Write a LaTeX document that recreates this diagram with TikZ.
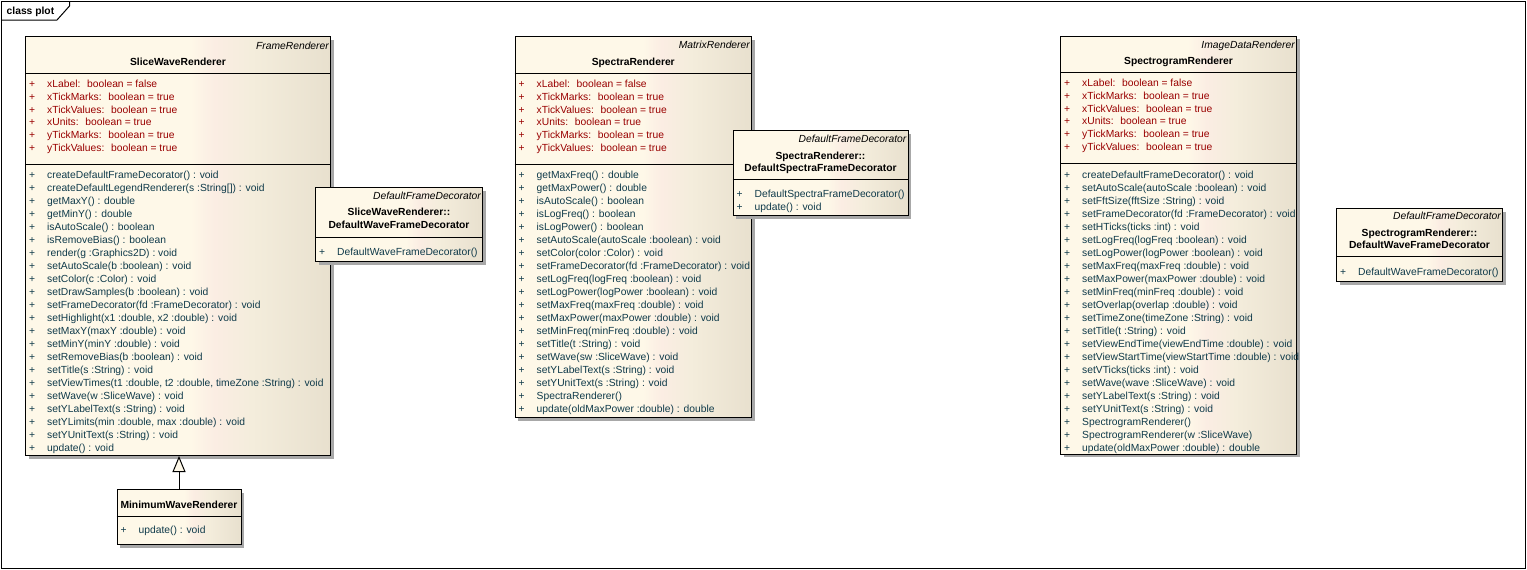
\documentclass[tikz,border=0pt]{standalone}
\usepackage{fontspec}
\setmainfont{Liberation Sans}
\usetikzlibrary{arrows.meta,positioning,shadows}
\definecolor{PlotCream}{HTML}{FEF8E8}
\definecolor{PlotPink}{HTML}{FBEDE3}
\definecolor{PlotBeige}{HTML}{F4EDDC}
\definecolor{PlotTan}{HTML}{E8E0CE}
\definecolor{PlotShadow}{HTML}{A8A8A8}
\definecolor{AttrRed}{HTML}{990000}
\definecolor{OpTeal}{HTML}{0F3A4A}
\pgfdeclarehorizontalshading{classfill}{100bp}{color(0bp)=(PlotCream); color(25bp)=(PlotCream); color(52bp)=(PlotCream); color(56bp)=(PlotPink); color(62bp)=(PlotBeige); color(75bp)=(PlotTan); color(100bp)=(PlotTan)}
\tikzset{
  classbox/.style={draw=black,line width=1pt,shading=classfill,anchor=north west,inner sep=0pt,drop shadow={shadow xshift=3pt,shadow yshift=-3pt,fill=PlotShadow,opacity=1}},
  stereo/.style={font=\fontsize{10.3}{12}\selectfont\itshape,anchor=base east,inner sep=0pt},
  classname/.style={font=\fontsize{10.3}{12}\selectfont\bfseries,anchor=base,inner sep=0pt},
  attrrow/.style={font=\fontsize{10.3}{12}\selectfont,text=AttrRed,anchor=base west,inner sep=0pt},
  oprow/.style={attrrow,text=OpTeal},
  titletext/.style={font=\fontsize{10.3}{12}\selectfont\bfseries,anchor=base west,inner sep=0pt},
  divider/.style={line width=1pt},
  frameline/.style={line width=1pt},
  inherit/.style={line width=1pt,-{Triangle[open,length=16pt,width=13pt,fill=PlotCream]}}
}
\newcommand{\classrows}[5][13]{%
  \foreach \row [count=\rowno] in {#5} {%
    \pgfmathsetmacro\rowy{#4+(\rowno-1)*#1}%
    \node[#3] (#2-#3\rowno) at ([shift={(4,\rowy)}]#2.north west) {\makebox[18pt][l]{+}\row};
  }%
}
\newcommand{\classdivider}[2]{%
  \draw[divider] ([shift={(0,#2)}]#1.north west) -- ([shift={(0,#2)}]#1.north east);
}

\begin{document}
\begin{tikzpicture}[x=1pt,y=-1pt]
  \useasboundingbox (0,0) rectangle (1527,570);
  % diagram frame
  \draw[frameline] (1.5,1.5) rectangle (1525.5,568.5);
  \draw[frameline] (1.5,20) -- (57,20) -- (69.5,6) -- (69.5,1.5);
  \node[titletext] (title) at (6.5,15) {class plot};

  % SliceWaveRenderer
  \node[classbox,minimum width=305pt,minimum height=419pt] (swr) at (25,36) {};
  \node[stereo] (swr-st) at ([shift={(-2,13)}]swr.north east) {FrameRenderer};
  \node[classname] (swr-name) at ([shift={(0,29.5)}]swr.north) {SliceWaveRenderer};
  \classdivider{swr}{37}
  \classdivider{swr}{128}
  \classrows[12.8]{swr}{attrrow}{51.5}{xLabel:~ boolean = false, xTickMarks:~ boolean = true, xTickValues:~ boolean = true, xUnits:~ boolean = true, yTickMarks:~ boolean = true, yTickValues:~ boolean = true}
  \classrows{swr}{oprow}{142}{createDefaultFrameDecorator() : void, createDefaultLegendRenderer(s :String[]) : void, getMaxY() : double, getMinY() : double, isAutoScale() : boolean, isRemoveBias() : boolean, render(g :Graphics2D) : void, setAutoScale(b :boolean) : void, setColor(c :Color) : void, setDrawSamples(b :boolean) : void, setFrameDecorator(fd :FrameDecorator) : void, {setHighlight(x1 :double, x2 :double) : void}, setMaxY(maxY :double) : void, setMinY(minY :double) : void, setRemoveBias(b :boolean) : void, setTitle(s :String) : void, {setViewTimes(t1 :double, t2 :double, timeZone :String) : void}, setWave(w :SliceWave) : void, setYLabelText(s :String) : void, {setYLimits(min :double, max :double) : void}, setYUnitText(s :String) : void, update() : void}

  % SliceWaveRenderer::DefaultWaveFrameDecorator
  \node[classbox,minimum width=167pt,minimum height=74pt] (swdec) at (315,187) {};
  \node[stereo] (swdec-st) at ([shift={(-2,12.3)}]swdec.north east) {DefaultFrameDecorator};
  \node[classname] (swdec-name) at ([shift={(0,28.8)}]swdec.north) {SliceWaveRenderer::};
  \node[classname] (swdec-name2) at ([shift={(0,41.6)}]swdec.north) {DefaultWaveFrameDecorator};
  \classdivider{swdec}{50}
  \classrows{swdec}{oprow}{68.3}{DefaultWaveFrameDecorator()}

  % MinimumWaveRenderer
  \node[classbox,minimum width=124pt,minimum height=55pt] (mwr) at (116.5,489) {};
  \node[classname] (mwr-name) at ([shift={(0,19)}]mwr.north) {MinimumWaveRenderer};
  \classdivider{mwr}{27}
  \classrows{mwr}{oprow}{44.5}{update() : void}
  \draw[inherit] (mwr.north) -- (mwr.north |- swr.south);

  % SpectraRenderer
  \node[classbox,minimum width=236.5pt,minimum height=381pt] (spr) at (514.5,36) {};
  \node[stereo] (spr-st) at ([shift={(-2,12.8)}]spr.north east) {MatrixRenderer};
  \node[classname] (spr-name) at ([shift={(0,29.5)}]spr.north) {SpectraRenderer};
  \classdivider{spr}{37}
  \classdivider{spr}{128}
  \classrows[12.8]{spr}{attrrow}{51.5}{xLabel:~ boolean = false, xTickMarks:~ boolean = true, xTickValues:~ boolean = true, xUnits:~ boolean = true, yTickMarks:~ boolean = true, yTickValues:~ boolean = true}
  \classrows{spr}{oprow}{142}{getMaxFreq() : double, getMaxPower() : double, isAutoScale() : boolean, isLogFreq() : boolean, isLogPower() : boolean, setAutoScale(autoScale :boolean) : void, setColor(color :Color) : void, setFrameDecorator(fd :FrameDecorator) : void, setLogFreq(logFreq :boolean) : void, setLogPower(logPower :boolean) : void, setMaxFreq(maxFreq :double) : void, setMaxPower(maxPower :double) : void, setMinFreq(minFreq :double) : void, setTitle(t :String) : void, setWave(sw :SliceWave) : void, setYLabelText(s :String) : void, setYUnitText(s :String) : void, SpectraRenderer(), update(oldMaxPower :double) : double}

  % SpectraRenderer::DefaultSpectraFrameDecorator
  \node[classbox,minimum width=175pt,minimum height=85pt] (spdec) at (732.5,130) {};
  \node[stereo] (spdec-st) at ([shift={(-2,12.5)}]spdec.north east) {DefaultFrameDecorator};
  \node[classname] (spdec-name) at ([shift={(0,29.3)}]spdec.north) {SpectraRenderer::};
  \node[classname] (spdec-name2) at ([shift={(0,41.7)}]spdec.north) {DefaultSpectraFrameDecorator};
  \classdivider{spdec}{49}
  \classrows{spdec}{oprow}{67.5}{DefaultSpectraFrameDecorator(), update() : void}

  % SpectrogramRenderer
  \node[classbox,minimum width=236pt,minimum height=418pt] (sgr) at (1060,35.5) {};
  \node[stereo] (sgr-st) at ([shift={(-2,12.5)}]sgr.north east) {ImageDataRenderer};
  \node[classname] (sgr-name) at ([shift={(0,28.5)}]sgr.north) {SpectrogramRenderer};
  \classdivider{sgr}{37}
  \classdivider{sgr}{128}
  \classrows[12.8]{sgr}{attrrow}{51}{xLabel:~ boolean = false, xTickMarks:~ boolean = true, xTickValues:~ boolean = true, xUnits:~ boolean = true, yTickMarks:~ boolean = true, yTickValues:~ boolean = true}
  \classrows{sgr}{oprow}{142.5}{createDefaultFrameDecorator() : void, setAutoScale(autoScale :boolean) : void, setFftSize(fftSize :String) : void, setFrameDecorator(fd :FrameDecorator) : void, setHTicks(ticks :int) : void, setLogFreq(logFreq :boolean) : void, setLogPower(logPower :boolean) : void, setMaxFreq(maxFreq :double) : void, setMaxPower(maxPower :double) : void, setMinFreq(minFreq :double) : void, setOverlap(overlap :double) : void, setTimeZone(timeZone :String) : void, setTitle(t :String) : void, setViewEndTime(viewEndTime :double) : void, setViewStartTime(viewStartTime :double) : void, setVTicks(ticks :int) : void, setWave(wave :SliceWave) : void, setYLabelText(s :String) : void, setYUnitText(s :String) : void, SpectrogramRenderer(), SpectrogramRenderer(w :SliceWave), update(oldMaxPower :double) : double}

  % SpectrogramRenderer::DefaultWaveFrameDecorator
  \node[classbox,minimum width=166pt,minimum height=73pt] (sgdec) at (1336,208) {};
  \node[stereo] (sgdec-st) at ([shift={(-2,11.5)}]sgdec.north east) {DefaultFrameDecorator};
  \node[classname] (sgdec-name) at ([shift={(0,28)}]sgdec.north) {SpectrogramRenderer::};
  \node[classname] (sgdec-name2) at ([shift={(0,40.5)}]sgdec.north) {DefaultWaveFrameDecorator};
  \classdivider{sgdec}{48}
  \classrows{sgdec}{oprow}{67}{DefaultWaveFrameDecorator()}
\end{tikzpicture}
\end{document}
